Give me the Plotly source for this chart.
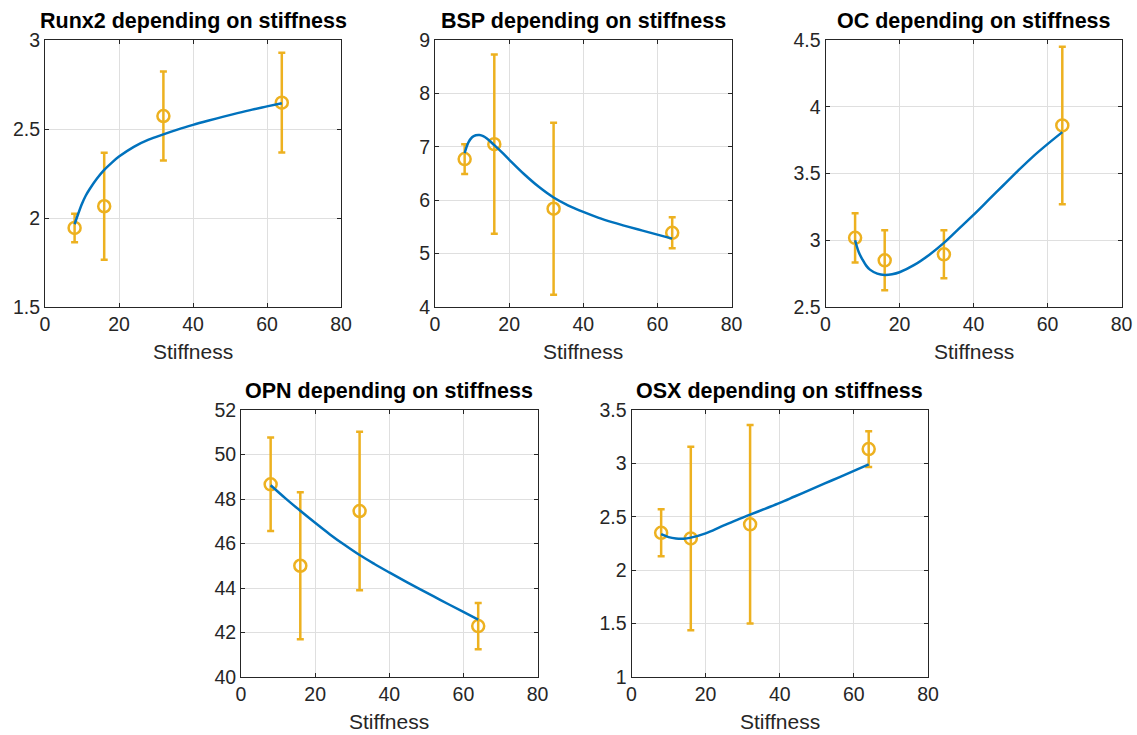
import plotly.graph_objects as go

# ---------------- data ----------------
stiffness = [8, 16, 32, 64]

runx2_mean = [1.944, 2.066, 2.573, 2.648]
runx2_err = [0.08, 0.30, 0.25, 0.28]
runx2_fit_x = [8, 9, 10, 11, 12, 14, 16, 18, 20, 24, 28, 32, 36, 40, 44, 48, 52, 56, 60, 64]
runx2_fit_y = [1.965, 2.025, 2.08, 2.125, 2.16, 2.22, 2.27, 2.31, 2.345, 2.40, 2.44,
               2.47, 2.498, 2.523, 2.546, 2.568, 2.589, 2.609, 2.627, 2.645]

bsp_mean = [6.77, 7.05, 5.84, 5.39]
bsp_err = [0.28, 1.68, 1.61, 0.29]
bsp_fit_x = [8, 9, 10, 11, 12, 13, 14, 16, 18, 20, 24, 28, 32, 36, 40, 44, 48, 52, 56, 60, 64]
bsp_fit_y = [6.88, 7.08, 7.18, 7.215, 7.22, 7.20, 7.155, 7.03, 6.90, 6.76, 6.49, 6.25,
             6.05, 5.90, 5.78, 5.675, 5.585, 5.505, 5.43, 5.355, 5.28]

oc_mean = [3.018, 2.85, 2.895, 3.86]
oc_err = [0.185, 0.225, 0.18, 0.59]
oc_fit_x = [8, 9, 10, 11, 12, 14, 16, 18, 20, 24, 28, 32, 36, 40, 44, 48, 52, 56, 60, 64]
oc_fit_y = [3.00, 2.91, 2.855, 2.81, 2.78, 2.75, 2.74, 2.745, 2.76, 2.815, 2.89, 2.98,
            3.085, 3.19, 3.30, 3.41, 3.52, 3.625, 3.72, 3.81]

opn_mean = [48.66, 45.0, 47.46, 42.29]
opn_err = [2.1, 3.3, 3.56, 1.04]
opn_fit_x = [8, 12, 16, 20, 24, 28, 32, 36, 40, 44, 48, 52, 56, 60, 64]
opn_fit_y = [48.62, 48.03, 47.47, 46.93, 46.41, 45.93, 45.48, 45.08, 44.70, 44.33,
             43.97, 43.62, 43.27, 42.925, 42.58]

osx_mean = [2.35, 2.297, 2.43, 3.134]
osx_err = [0.22, 0.86, 0.93, 0.167]
osx_fit_x = [8, 10, 12, 14, 16, 20, 24, 28, 32, 36, 40, 44, 48, 52, 56, 60, 64]
osx_fit_y = [2.3375, 2.31, 2.297, 2.295, 2.305, 2.345, 2.405, 2.465, 2.52, 2.575,
             2.63, 2.69, 2.75, 2.81, 2.87, 2.93, 2.99]

titles = ["Runx2 depending on stiffness", "BSP depending on stiffness",
          "OC depending on stiffness", "OPN depending on stiffness",
          "OSX depending on stiffness"]
x_label = "Stiffness"
y_ranges = [[1.5, 3], [4, 9], [2.5, 4.5], [40, 52], [1, 3.5]]
y_dticks = [0.5, 1, 0.5, 2, 0.5]

panels = [
    (runx2_mean, runx2_err, runx2_fit_x, runx2_fit_y),
    (bsp_mean, bsp_err, bsp_fit_x, bsp_fit_y),
    (oc_mean, oc_err, oc_fit_x, oc_fit_y),
    (opn_mean, opn_err, opn_fit_x, opn_fit_y),
    (osx_mean, osx_err, osx_fit_x, osx_fit_y),
]

# ---------------- layout geometry ----------------
W, H = 1137, 735
x_doms = [(45, 341), (435, 731.5), (825.5, 1121.5), (241, 537.5), (631.5, 928)]
y_doms = [(40, 307), (40, 307), (40, 307), (410, 677), (410, 677)]

YELLOW = "#EDB120"
BLUE = "#0072BD"
AXC = "#262626"
FONT = "Liberation Sans, Arial, Helvetica, sans-serif"

fig = go.Figure()
layout = dict(width=W, height=H, margin=dict(l=0, r=0, t=0, b=0, autoexpand=False),
              paper_bgcolor="white", plot_bgcolor="white", showlegend=False,
              font=dict(family=FONT, color=AXC))
annotations = []

for i, (mean, err, fx, fy) in enumerate(panels):
    n = "" if i == 0 else str(i + 1)
    xa, ya = "x" + n, "y" + n
    fig.add_trace(go.Scatter(
        x=stiffness, y=mean, xaxis=xa, yaxis=ya, mode="markers",
        marker=dict(symbol="circle-open", size=12, color=YELLOW,
                    line=dict(width=2.5, color=YELLOW)),
        error_y=dict(type="data", array=err, visible=True, color=YELLOW,
                     thickness=2.5, width=3.5),
        cliponaxis=False))
    fig.add_trace(go.Scatter(
        x=fx, y=fy, xaxis=xa, yaxis=ya, mode="lines",
        line=dict(color=BLUE, width=2.5, shape="spline", smoothing=1.0)))

    x0, x1 = x_doms[i]
    y0, y1 = y_doms[i]
    dx = [x0 / W, x1 / W]
    dy = [1 - y1 / H, 1 - y0 / H]
    common = dict(showline=True, linecolor=AXC, linewidth=1, mirror="ticks",
                  ticks="inside", ticklen=4, tickcolor=AXC, tickwidth=1,
                  showgrid=True, gridcolor="#DFDFDF", gridwidth=1,
                  zeroline=False, automargin=False,
                  tickfont=dict(size=19.5, color=AXC, family=FONT))
    layout["xaxis" + n] = dict(domain=dx, range=[0, 80], dtick=20, tick0=0,
                               anchor=ya, **common)
    layout["yaxis" + n] = dict(domain=dy, range=y_ranges[i], dtick=y_dticks[i],
                               tick0=y_ranges[i][0], anchor=xa, **common)
    cx = (dx[0] + dx[1]) / 2
    annotations.append(dict(text="<b>" + titles[i] + "</b>", x=cx, y=dy[1] + 5 / H,
                            xref="paper", yref="paper", xanchor="center",
                            yanchor="bottom", showarrow=False,
                            font=dict(size=21.5, color="black", family=FONT)))
    annotations.append(dict(text=x_label, x=cx, y=dy[0] - 32 / H,
                            xref="paper", yref="paper", xanchor="center",
                            yanchor="top", showarrow=False, borderpad=0,
                            font=dict(size=21, color=AXC, family=FONT)))

layout["annotations"] = annotations
fig.update_layout(**layout)
fig.write_html("out.html")
